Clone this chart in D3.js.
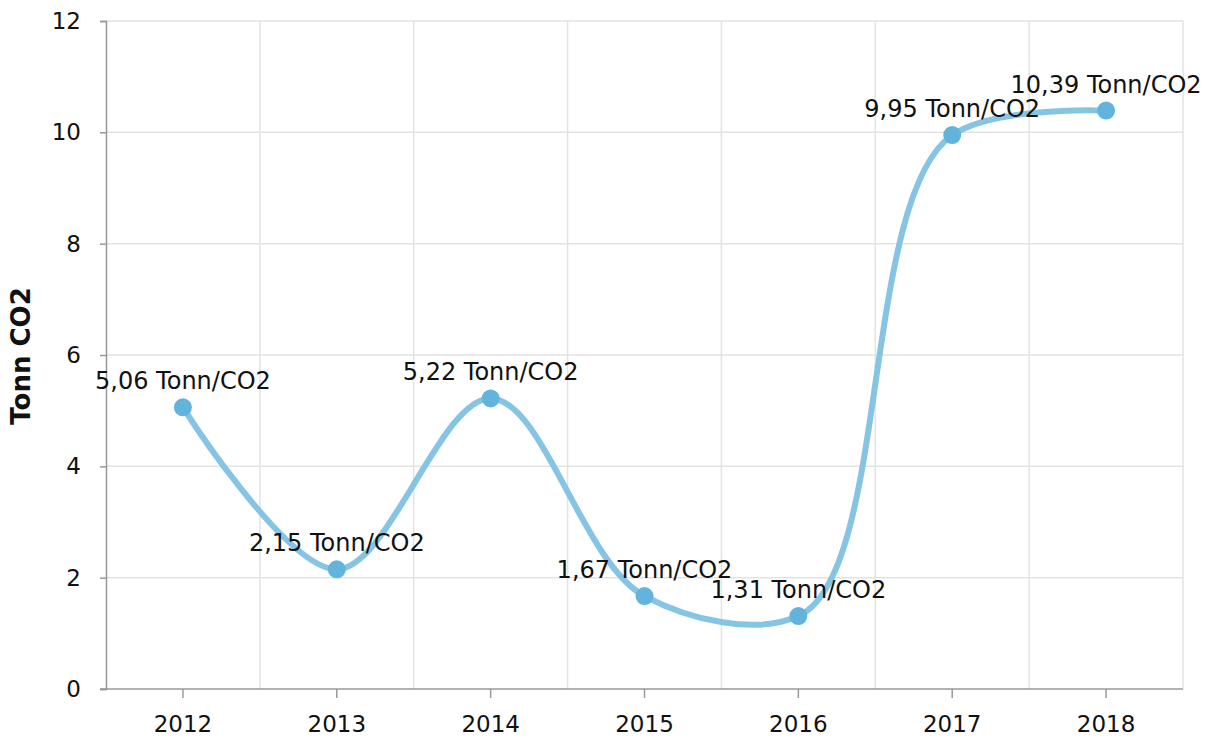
<!DOCTYPE html>
<html>
<head>
<meta charset="utf-8">
<script src="https://cdn.jsdelivr.net/npm/d3@7"></script>
<style>
  body { margin: 0; background: #fff; }
  svg text { font-family: "DejaVu Sans", Verdana, sans-serif; fill: #111; }
</style>
</head>
<body>
<div id="chart"></div>
<script>
let years = ['2012', '2013', '2014', '2015', '2016', '2017', '2018'];
let values = [5.06, 2.15, 5.22, 1.67, 1.31, 9.95, 10.39];
let yTicks = [0, 2, 4, 6, 8, 10, 12];
let unit = 'Tonn/CO2';
let yTitle = 'Tonn CO2';

let width = 1213,
    height = 740,
    margin = {left: 106, top: 21, right: 30, bottom: 51},
    clipWidth = width - margin.left - margin.right,
    clipHeight = height - margin.top - margin.bottom;

let svg = d3.select('#chart').append('svg')
    .attr('width', width)
    .attr('height', height)
    .append('g')
    .attr('transform', `translate(${margin.left}, ${margin.top})`);

let xScale = d3.scaleBand()
    .domain(years)
    .range([0, clipWidth]);

let yScale = d3.scaleLinear()
    .domain([0, 12])
    .range([clipHeight, 0]);

let cx = d => xScale(d) + xScale.bandwidth() / 2;

// grid
let grid_g = svg.append('g').attr('class', 'grid');
grid_g.selectAll('.hgrid')
    .data(yTicks.filter(d => d > 0))
    .join('line')
    .attr('x1', 0).attr('x2', clipWidth)
    .attr('y1', d => yScale(d)).attr('y2', d => yScale(d))
    .style('stroke', '#e3e3e3').style('stroke-width', 1.5);
grid_g.selectAll('.vgrid')
    .data(years)
    .join('line')
    .attr('x1', d => xScale(d) + xScale.bandwidth()).attr('x2', d => xScale(d) + xScale.bandwidth())
    .attr('y1', 0).attr('y2', clipHeight)
    .style('stroke', '#e3e3e3').style('stroke-width', 1.5);

// axes
let yAxis = svg.append('g')
    .call(d3.axisLeft(yScale).tickValues(yTicks).tickSize(6).tickPadding(19));
let xAxis = svg.append('g')
    .attr('transform', `translate(0, ${clipHeight})`)
    .call(d3.axisBottom(xScale).tickSize(9).tickPadding(18));

[yAxis, xAxis].forEach(a => {
    a.select('.domain').style('stroke', '#999').style('stroke-width', 1.5);
    a.selectAll('.tick line').style('stroke', '#999').style('stroke-width', 1.5);
    a.selectAll('.tick text').style('font-size', '23px').style('fill', '#111');
});
xAxis.select('.domain').attr('d', `M-6,0H${clipWidth}`);

svg.append('text')
    .attr('transform', `translate(${-76}, ${clipHeight / 2 + 1}) rotate(-90)`)
    .attr('text-anchor', 'middle')
    .style('font-size', '26px')
    .style('font-weight', 'bold')
    .text(yTitle);

// line
let line = d3.line()
    .x((d, i) => cx(years[i]))
    .y(d => yScale(d))
    .curve(d3.curveCatmullRom.alpha(0.65));

svg.append('path')
    .datum(values)
    .attr('d', line)
    .style('fill', 'none')
    .style('stroke', '#86c4e3')
    .style('stroke-width', 6)
    .style('stroke-linecap', 'round');

svg.selectAll('.dot')
    .data(values)
    .join('circle')
    .attr('cx', (d, i) => cx(years[i]))
    .attr('cy', d => yScale(d))
    .attr('r', 9)
    .style('fill', '#63b4dc');

svg.selectAll('.lbl')
    .data(values)
    .join('text')
    .attr('x', (d, i) => cx(years[i]))
    .attr('y', d => yScale(d) - 18)
    .attr('text-anchor', 'middle')
    .style('font-size', '24px')
    .text(d => d.toFixed(2).replace('.', ',') + ' ' + unit);
</script>
</body>
</html>
